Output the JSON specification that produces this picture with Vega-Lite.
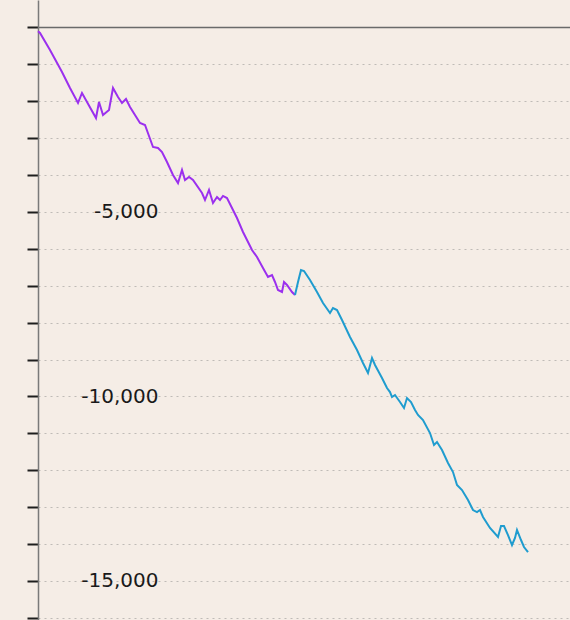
{
  "$schema": "https://vega.github.io/schema/vega-lite/v6.json",
  "width": 532,
  "height": 620,
  "autosize": {"type": "none"},
  "padding": {"left": 38, "top": 0, "right": 0, "bottom": 0},
  "background": "#f5ede6",
  "config": {"view": {"stroke": null}},
  "data": {"values": [
    {"t": 0, "v": -100, "s": "a"}, {"t": 2, "v": -149, "s": "a"}, {"t": 12, "v": -610, "s": "a"}, {"t": 24, "v": -1206, "s": "a"},
    {"t": 32, "v": -1640, "s": "a"}, {"t": 40, "v": -2046, "s": "a"}, {"t": 44, "v": -1775, "s": "a"}, {"t": 49, "v": -2019, "s": "a"},
    {"t": 58, "v": -2453, "s": "a"}, {"t": 61, "v": -2019, "s": "a"}, {"t": 65, "v": -2371, "s": "a"}, {"t": 71, "v": -2236, "s": "a"},
    {"t": 75, "v": -1640, "s": "a"}, {"t": 80, "v": -1883, "s": "a"}, {"t": 84, "v": -2046, "s": "a"}, {"t": 88, "v": -1938, "s": "a"},
    {"t": 92, "v": -2155, "s": "a"}, {"t": 97, "v": -2371, "s": "a"}, {"t": 102, "v": -2588, "s": "a"}, {"t": 107, "v": -2642, "s": "a"},
    {"t": 115, "v": -3238, "s": "a"}, {"t": 120, "v": -3266, "s": "a"}, {"t": 124, "v": -3374, "s": "a"}, {"t": 129, "v": -3645, "s": "a"},
    {"t": 135, "v": -3997, "s": "a"}, {"t": 140, "v": -4214, "s": "a"}, {"t": 144, "v": -3862, "s": "a"}, {"t": 147, "v": -4133, "s": "a"},
    {"t": 151, "v": -4052, "s": "a"}, {"t": 155, "v": -4133, "s": "a"}, {"t": 164, "v": -4485, "s": "a"}, {"t": 167, "v": -4675, "s": "a"},
    {"t": 171, "v": -4404, "s": "a"}, {"t": 175, "v": -4756, "s": "a"}, {"t": 179, "v": -4593, "s": "a"}, {"t": 182, "v": -4675, "s": "a"},
    {"t": 185, "v": -4566, "s": "a"}, {"t": 189, "v": -4621, "s": "a"}, {"t": 195, "v": -4946, "s": "a"}, {"t": 199, "v": -5163, "s": "a"},
    {"t": 205, "v": -5542, "s": "a"}, {"t": 214, "v": -6030, "s": "a"}, {"t": 219, "v": -6220, "s": "a"}, {"t": 225, "v": -6518, "s": "a"},
    {"t": 230, "v": -6762, "s": "a"}, {"t": 234, "v": -6708, "s": "a"}, {"t": 237, "v": -6897, "s": "a"}, {"t": 240, "v": -7114, "s": "a"},
    {"t": 244, "v": -7168, "s": "a"}, {"t": 246, "v": -6897, "s": "a"}, {"t": 249, "v": -6979, "s": "a"}, {"t": 254, "v": -7168, "s": "a"},
    {"t": 257, "v": -7249, "s": "a"},
    {"t": 257, "v": -7249, "s": "b"}, {"t": 260, "v": -6897, "s": "b"}, {"t": 263, "v": -6572, "s": "b"}, {"t": 266, "v": -6599, "s": "b"},
    {"t": 272, "v": -6843, "s": "b"}, {"t": 279, "v": -7168, "s": "b"}, {"t": 285, "v": -7466, "s": "b"}, {"t": 292, "v": -7737, "s": "b"},
    {"t": 295, "v": -7602, "s": "b"}, {"t": 299, "v": -7656, "s": "b"}, {"t": 304, "v": -7927, "s": "b"}, {"t": 312, "v": -8388, "s": "b"},
    {"t": 319, "v": -8741, "s": "b"}, {"t": 325, "v": -9093, "s": "b"}, {"t": 330, "v": -9364, "s": "b"}, {"t": 334, "v": -8958, "s": "b"},
    {"t": 337, "v": -9147, "s": "b"}, {"t": 344, "v": -9499, "s": "b"}, {"t": 349, "v": -9771, "s": "b"}, {"t": 352, "v": -9879, "s": "b"},
    {"t": 354, "v": -10015, "s": "b"}, {"t": 357, "v": -9960, "s": "b"}, {"t": 362, "v": -10150, "s": "b"}, {"t": 366, "v": -10313, "s": "b"},
    {"t": 369, "v": -10042, "s": "b"}, {"t": 373, "v": -10150, "s": "b"}, {"t": 377, "v": -10366, "s": "b"}, {"t": 380, "v": -10501, "s": "b"},
    {"t": 385, "v": -10637, "s": "b"}, {"t": 392, "v": -10990, "s": "b"}, {"t": 396, "v": -11315, "s": "b"}, {"t": 399, "v": -11234, "s": "b"},
    {"t": 404, "v": -11451, "s": "b"}, {"t": 410, "v": -11803, "s": "b"}, {"t": 415, "v": -12047, "s": "b"}, {"t": 419, "v": -12399, "s": "b"},
    {"t": 424, "v": -12535, "s": "b"}, {"t": 430, "v": -12806, "s": "b"}, {"t": 435, "v": -13077, "s": "b"}, {"t": 439, "v": -13131, "s": "b"},
    {"t": 442, "v": -13077, "s": "b"}, {"t": 445, "v": -13266, "s": "b"}, {"t": 452, "v": -13564, "s": "b"}, {"t": 460, "v": -13808, "s": "b"},
    {"t": 463, "v": -13510, "s": "b"}, {"t": 466, "v": -13510, "s": "b"}, {"t": 470, "v": -13754, "s": "b"}, {"t": 474, "v": -14025, "s": "b"},
    {"t": 477, "v": -13835, "s": "b"}, {"t": 479, "v": -13618, "s": "b"}, {"t": 483, "v": -13889, "s": "b"}, {"t": 486, "v": -14079, "s": "b"},
    {"t": 490, "v": -14215, "s": "b"}
  ]},
  "mark": {"type": "line", "strokeWidth": 2, "clip": false},
  "encoding": {
    "x": {"field": "t", "type": "quantitative", "scale": {"domain": [0, 532], "nice": false, "zero": false}, "axis": null},
    "y": {
      "field": "v", "type": "quantitative",
      "scale": {"domain": [-16057, 745], "nice": false, "zero": false},
      "axis": {
        "title": null,
        "orient": "left",
        "values": [0, -1000, -2000, -3000, -4000, -5000, -6000, -7000, -8000, -9000, -10000, -11000, -12000, -13000, -14000, -15000, -16000],
        "domain": true, "domainColor": "#7a7a7a", "domainWidth": 1.5,
        "ticks": true, "tickColor": "#1e1e1e", "tickSize": 11, "tickWidth": 2,
        "grid": true,
        "gridColor": {"condition": {"test": "datum.value === 0", "value": "#6a6a6a"}, "value": "#bfbbb7"},
        "gridDash": {"condition": {"test": "datum.value === 0", "value": []}, "value": [2, 4]},
        "gridWidth": {"condition": {"test": "datum.value === 0", "value": 1.5}, "value": 1},
        "labelExpr": "(datum.value % 5000 === 0 && datum.value !== 0) ? replace(format(datum.value, ','), '−', '-') : ''",
        "labelAlign": "right", "labelBaseline": "middle", "labelPadding": -131,
        "labelFont": "DejaVu Sans", "labelFontSize": 20, "labelColor": "#1a1a1a",
        "labelOverlap": false, "labelBound": false, "labelFlush": false
      }
    },
    "color": {"field": "s", "type": "nominal", "scale": {"domain": ["a", "b"], "range": ["#9b30ee", "#1f9ccf"]}, "legend": null}
  }
}
